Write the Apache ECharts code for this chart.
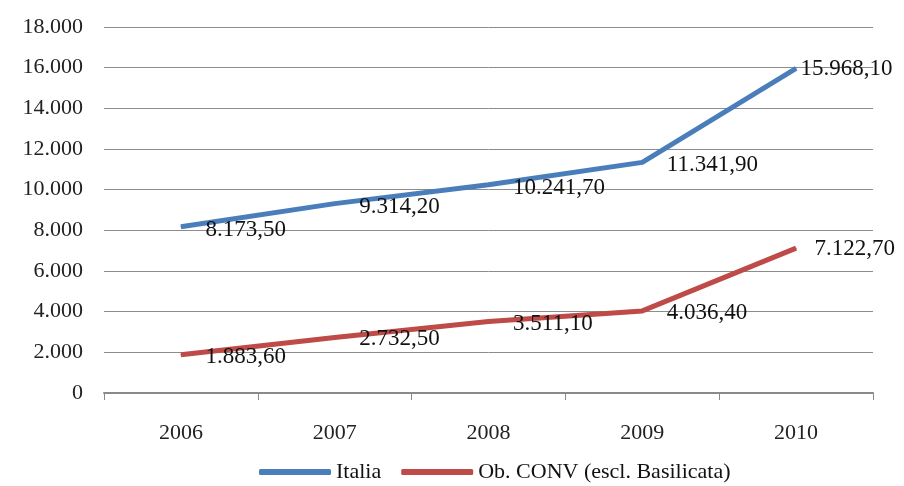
<!DOCTYPE html>
<html>
<head>
<meta charset="utf-8">
<script src="https://cdn.jsdelivr.net/npm/echarts@6/dist/echarts.min.js"></script>
<style>
  html, body { margin: 0; padding: 0; background: #fff; }
  #main { width: 904px; height: 486px; }
</style>
</head>
<body>
<div id="main"></div>
<script>
var anni = ['2006', '2007', '2008', '2009', '2010'];
var italia = [8173.5, 9314.2, 10241.7, 11341.9, 15968.1];
var obConv = [1883.6, 2732.5, 3511.1, 4036.4, 7122.7];
var nomi = ['Italia', 'Ob. CONV (escl. Basilicata)'];

// formato italiano: 8.173,50
function fmt(v, dec) {
  var s = v.toFixed(dec).split('.');
  var intero = s[0].replace(/\B(?=(\d{3})+(?!\d))/g, '.');
  return dec ? intero + ',' + s[1] : intero;
}

var serif = '"Liberation Serif", "DejaVu Serif", serif';

function punti(valori, ultimaDist) {
  return valori.map(function (v, i) {
    if (i === valori.length - 1) {
      return { value: v, label: { distance: ultimaDist, offset: [0, 1] } };
    }
    return v;
  });
}

var myChart = echarts.init(document.getElementById('main'));
var option = {
  animation: false,
  grid: { left: 104, right: 31, top: 27, bottom: 93 },
  legend: {
    top: 456,
    left: 254,
    icon: 'roundRect',
    itemWidth: 72,
    itemHeight: 6,
    itemGap: 20,
    textStyle: { fontFamily: serif, fontSize: 22, color: '#111' },
    data: nomi
  },
  xAxis: {
    type: 'category',
    data: anni,
    boundaryGap: true,
    axisLine: { lineStyle: { color: '#8a8a8a', width: 2 } },
    axisTick: { show: true, length: 7, lineStyle: { color: '#8a8a8a', width: 1 } },
    axisLabel: { fontFamily: serif, fontSize: 22, color: '#222', margin: 29 }
  },
  yAxis: {
    type: 'value',
    min: 0,
    max: 18000,
    interval: 2000,
    axisLine: { show: false },
    axisTick: { show: false },
    axisLabel: {
      fontFamily: serif, fontSize: 22, color: '#222', margin: 21,
      formatter: function (v) { return fmt(v, 0); }
    },
    splitLine: { lineStyle: { color: '#8c8c8c', width: 1 } }
  },
  series: [
    {
      name: nomi[0],
      type: 'line',
      data: punti(italia, 4),
      showSymbol: true,
      symbol: 'circle',
      symbolSize: 1,
      lineStyle: { color: '#4a7ebb', width: 5 },
      itemStyle: { color: '#4a7ebb' },
      label: {
        show: true, position: 'right', distance: 24, offset: [0, 3],
        fontFamily: serif, fontSize: 23, color: '#111',
        formatter: function (p) { return fmt(p.value, 2); }
      }
    },
    {
      name: nomi[1],
      type: 'line',
      data: punti(obConv, 18),
      showSymbol: true,
      symbol: 'circle',
      symbolSize: 1,
      lineStyle: { color: '#be4b48', width: 5 },
      itemStyle: { color: '#be4b48' },
      label: {
        show: true, position: 'right', distance: 24, offset: [0, 2],
        fontFamily: serif, fontSize: 23, color: '#111',
        formatter: function (p) { return fmt(p.value, 2); }
      }
    }
  ]
};
myChart.setOption(option);
</script>
</body>
</html>
